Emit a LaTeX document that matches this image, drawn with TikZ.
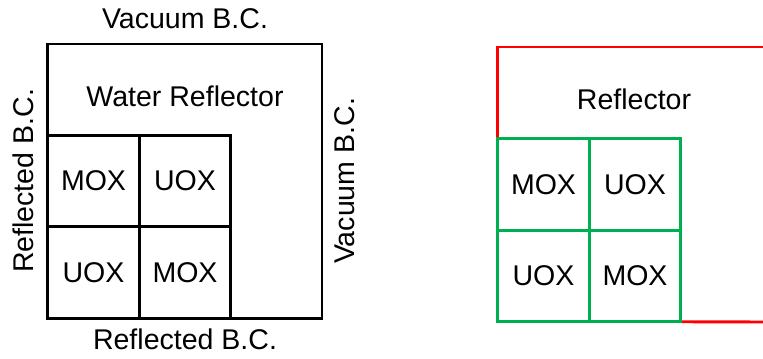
\documentclass[tikz,border=0pt]{standalone}
\usepackage{fontspec}
\setmainfont{Liberation Sans}
\usetikzlibrary{positioning}
\definecolor{bcred}{RGB}{255,0,0}
\definecolor{fuelgreen}{RGB}{0,176,80}
\tikzset{
  border/.style={line width=2.2pt},
  cell/.style={draw,border,minimum width=68.6pt,minimum height=68.6pt,inner sep=0pt,outer sep=0pt},
  bclabel/.style={inner sep=0pt}
}
\begin{document}
\begin{tikzpicture}[x=0.75pt,y=-0.75pt,font=\fontsize{21.4pt}{25pt}\selectfont]
  \useasboundingbox (0,0) rectangle (763,358);
  % left: full geometry with boundary conditions
  \draw[border] (47.75,44) rectangle (322,318.25);
  \node[cell] (lmox1) at (93.5,181) {MOX};
  \node[cell] (luox1) at (185,181) {UOX};
  \node[cell] (luox2) at (93.5,272.5) {UOX};
  \node[cell] (lmox2) at (185,272.5) {MOX};
  \node (lrefl) at (185,96) {Water Reflector};
  \node[bclabel] (top) at (185,19) {Vacuum B.C.};
  \node[bclabel] (bottom) at (185,339) {Reflected B.C.};
  \node[bclabel,rotate=90] (left) at (23,181) {Reflected B.C.};
  \node[bclabel,rotate=90] (right) at (345,181) {Vacuum B.C.};
  % right: coloured boundaries
  \coordinate (rtop) at (763,47);
  \coordinate (rbot) at (763,322);
  \node[cell,draw=none] (rmox1) at (543.5,184.5) {MOX};
  \node[cell,draw=none] (ruox1) at (635,184.5) {UOX};
  \node[cell,draw=none] (ruox2) at (543.5,276) {UOX};
  \node[cell,draw=none] (rmox2) at (635,276) {MOX};
  \draw[bcred,border] (rmox1.north west) -- (rmox1.north west |- rtop) -- (rtop);
  \draw[bcred,border] (rmox2.south east) -- (rbot);
  \foreach \c in {rmox1,ruox1,ruox2,rmox2}
    \draw[fuelgreen,border] (\c.south west) rectangle (\c.north east);
  \node (rrefl) at (634,99) {Reflector};
\end{tikzpicture}
\end{document}
